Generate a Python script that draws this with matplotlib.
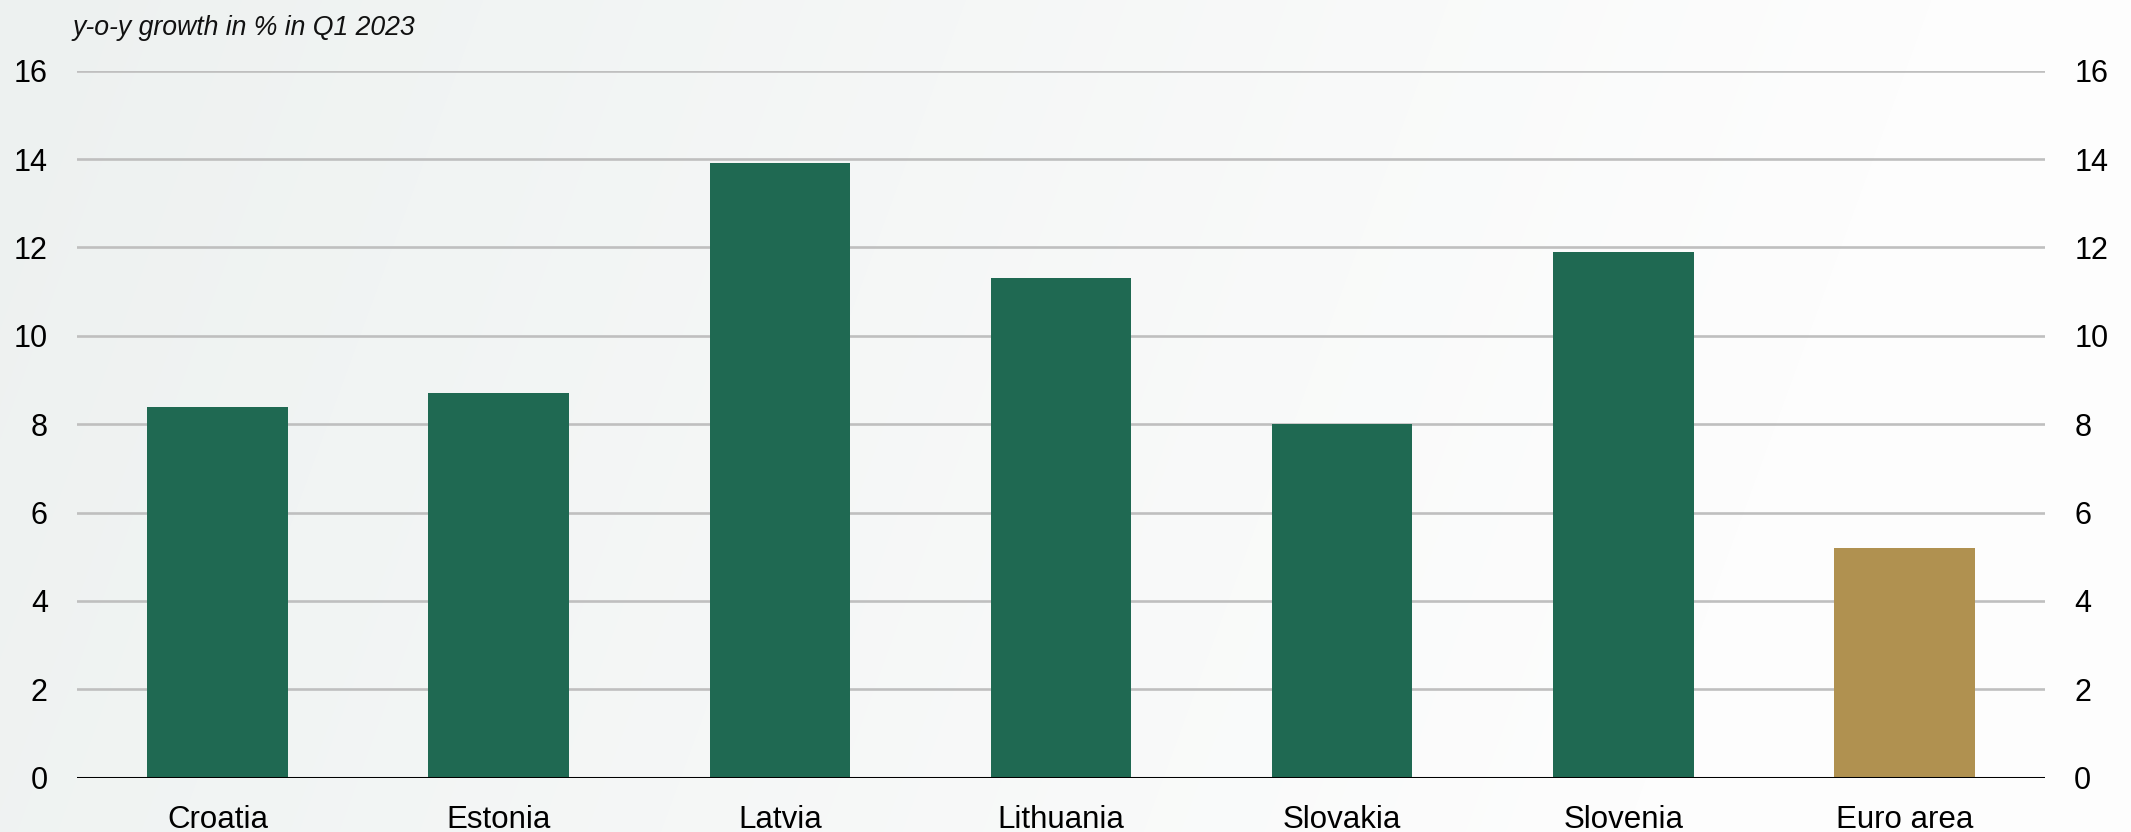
import numpy as np
import matplotlib
matplotlib.use("Agg")
import matplotlib.pyplot as plt
from matplotlib.colors import to_rgb
from matplotlib import font_manager

# ---- data ----
categories = ["Croatia", "Estonia", "Latvia", "Lithuania", "Slovakia", "Slovenia", "Euro area"]
values = [8.4, 8.7, 13.9, 11.3, 8.0, 11.9, 5.2]
bar_colors = ["#1f6952", "#1f6952", "#1f6952", "#1f6952", "#1f6952", "#1f6952", "#b09150"]
yticks = [0, 2, 4, 6, 8, 10, 12, 14, 16]
title = "y-o-y growth in % in Q1 2023"

W, H, DPI = 2131, 832, 100
plt.rcParams["font.family"] = ["Liberation Sans", "DejaVu Sans"]

fig = plt.figure(figsize=(W / DPI, H / DPI), dpi=DPI)

# background gradient (decoration)
bg = fig.add_axes([0, 0, 1, 1], zorder=-10)
yy, xx = np.mgrid[0:H, 0:W]
t = np.clip((600 * xx + 220 * yy) / 1158600.0, 0, 1)
c0 = np.array(to_rgb("#edf1f0"))
c1 = np.array(to_rgb("#fdfdfd"))
img = c0[None, None, :] * (1 - t[..., None]) + c1[None, None, :] * t[..., None]
bg.imshow(img, aspect="auto", extent=[0, 1, 0, 1], origin="upper")
bg.set_axis_off()

ax = fig.add_axes([77 / W, 1 - 777.7 / H, (2045 - 77) / W, (777.7 - 70.7) / H])
ax.set_facecolor("none")
x = np.arange(len(categories))
ax.bar(x, values, width=0.5, color=bar_colors, zorder=2)
ax.axhline(0, color="black", lw=2.2, zorder=3)

ax.set_xlim(-0.5, len(categories) - 0.5)
ax.set_ylim(0, 16)
ax.set_yticks(yticks)
ax.set_yticklabels([str(v) for v in yticks])
ax.set_xticks(x)
ax.set_xticklabels(categories)
ax.yaxis.grid(True, color="#bfbfbf", lw=1.9, zorder=0)
ax.set_axisbelow(True)
for s in ax.spines.values():
    s.set_visible(False)
ax.tick_params(axis="y", length=0, pad=21, labelsize=22, labelleft=True, labelright=True, colors="black")
ax.tick_params(axis="x", length=0, pad=20, labelsize=22.5, colors="black")

names = {f.name for f in font_manager.fontManager.ttflist}
if "Liberation Sans Narrow" in names:
    tfam, tsize = ["Liberation Sans Narrow", "DejaVu Sans"], 22.5
else:
    tfam, tsize = ["Liberation Sans", "DejaVu Sans"], 19.2

fig.text(73 / W, 1 - 35 / H, title, fontsize=tsize, style="italic",
         family=tfam, ha="left", va="baseline", color="#111111")

fig.savefig("out.png", dpi=DPI)
